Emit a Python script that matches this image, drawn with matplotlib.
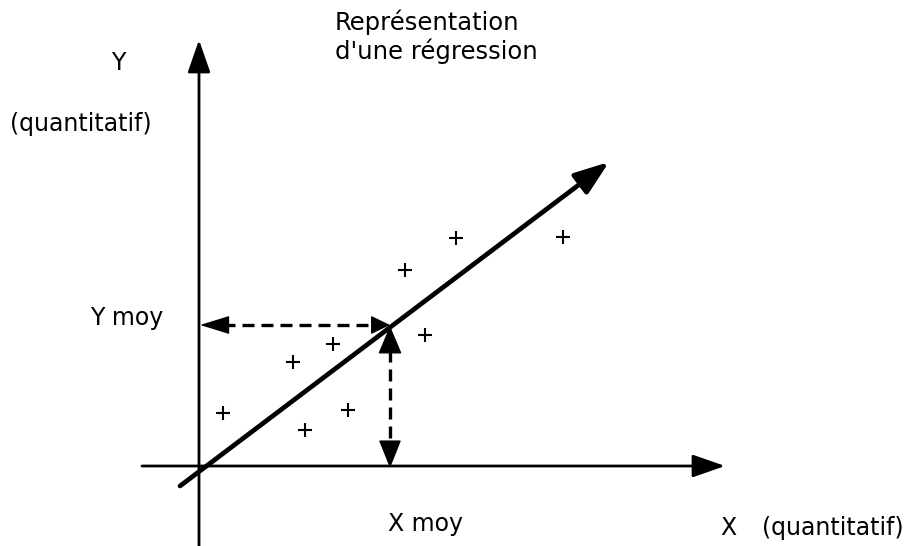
import matplotlib.pyplot as plt

# scatter points (pixel-like coordinates, y downward)
pts_x = [223, 305, 348, 293, 333, 405, 425, 456, 563]
pts_y = [413, 430, 410, 362, 344, 270, 335, 238, 237]

# origin, mean point, regression line ends
origine = (199, 466)
moyenne = (390, 325)
droite_debut = (180, 486)
droite_fin = (609, 162)

plt.rcParams['font.family'] = ['DejaVu Sans']

fig = plt.figure(figsize=(9.14, 5.46), dpi=100)
ax = fig.add_axes([0, 0, 1, 1])
ax.set_xlim(0, 914)
ax.set_ylim(546, 0)
ax.axis('off')


def fleche(debut, fin, lw=2.0, hl=1.0, hw=0.35):
    ax.annotate('', xy=fin, xytext=debut,
                arrowprops=dict(arrowstyle=f'-|>,head_length={hl},head_width={hw}',
                                color='black', lw=lw, shrinkA=0, shrinkB=0,
                                mutation_scale=20))


def tete(pointe, dx, dy, hl=0.9, hw=0.3):
    # arrow head only (very short shaft)
    ax.annotate('', xy=pointe, xytext=(pointe[0] + dx, pointe[1] + dy),
                arrowprops=dict(arrowstyle=f'-|>,head_length={hl},head_width={hw}',
                                color='black', lw=1, shrinkA=0, shrinkB=0,
                                mutation_scale=20))


# axes
fleche((origine[0], 546), (origine[0], 40))
fleche((142, origine[1]), (725, origine[1]))

# regression line
fleche(droite_debut, droite_fin, lw=3.4, hl=1.05, hw=0.38)

# dashed lines to the means
ax.plot([origine[0] + 24, moyenne[0] - 16], [moyenne[1], moyenne[1]],
        color='black', lw=2.4, ls=(0, (3.6, 2.1)))
ax.plot([moyenne[0], moyenne[0]], [moyenne[1] + 25, origine[1] - 23],
        color='black', lw=2.4, ls=(0, (3.6, 2.1)))
tete((origine[0] + 1, moyenne[1]), 27, 0, hl=0.94, hw=0.29)
tete(moyenne, -18, 0, hl=0.6, hw=0.29)
tete((moyenne[0], moyenne[1] + 1), 0, 26, hl=0.9, hw=0.38)
tete((moyenne[0], origine[1] + 2), 0, -26, hl=0.9, hw=0.36)

# points
ax.scatter(pts_x, pts_y, marker='+', s=100, color='black', linewidths=1.5)

# texts
fs = 17
ax.text(335, 22, 'Représentation', fontsize=17.5, va='center', ha='left')
ax.text(335, 51, "d'une régression", fontsize=17.5, va='center', ha='left')
ax.text(118, 63, 'Y', fontsize=fs, va='center', ha='center')
ax.text(10, 124, '(quantitatif)', fontsize=fs, va='center', ha='left')
ax.text(90, 318, 'Y moy', fontsize=fs, va='center', ha='left')
ax.text(388, 524, 'X moy', fontsize=fs, va='center', ha='left')
ax.text(720, 528, 'X', fontsize=fs, va='center', ha='left')
ax.text(762, 528, '(quantitatif)', fontsize=fs, va='center', ha='left')

fig.savefig('out.png', dpi=100)
